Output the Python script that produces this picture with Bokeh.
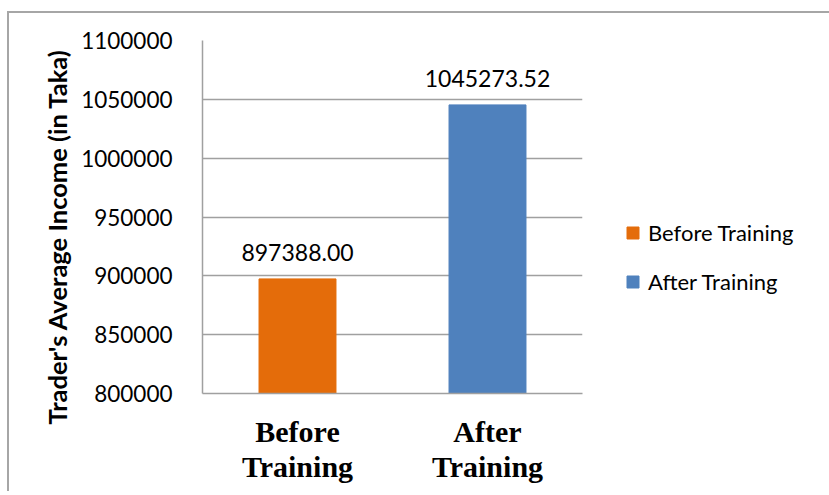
from bokeh.plotting import figure
from bokeh.models import (ColumnDataSource, Range1d, FixedTicker, NumeralTickFormatter, Legend,
                          LegendItem, CategoricalAxis, CustomJSTickFormatter, Title)
from bokeh.core.properties import value
from bokeh.embed import file_html
from bokeh.resources import INLINE

categories = ["Before Training", "After Training"]
incomes = [897388.00, 1045273.52]
colors = ["#E46C0A", "#4F81BD"]
tick_line1 = {"Before Training": "Before", "After Training": "After"}
tick_line2 = {"Before Training": "Training", "After Training": "Training"}
y_ticks = [800000, 850000, 900000, 950000, 1000000, 1050000, 1100000]
y_title = "Trader's Average Income (in Taka)"

src = ColumnDataSource(dict(cat=categories, val=incomes, color=colors,
                            lbl=[f"{v:.2f}" for v in incomes]))

p = figure(x_range=categories, y_range=Range1d(800000, 1100000),
           frame_width=380, frame_height=353, output_backend="svg", toolbar_location=None,
           min_border_left=193, min_border_top=27, min_border_right=245, min_border_bottom=98)
p.styles = {"border-top": "2px solid #a6a6a6", "border-left": "2px solid #a6a6a6",
            "margin-top": "11px", "margin-left": "7px"}
p.outline_line_color = None
p.background_fill_color = "white"

r = p.vbar(x="cat", top="val", bottom=800000, width=0.405, color="color", source=src)
p.text(x="cat", y="val", text="lbl", source=src, text_align="center", text_baseline="alphabetic",
       y_offset=-26, text_font=value("Lato"), text_font_size="23px", text_color="black")

p.yaxis.ticker = FixedTicker(ticks=y_ticks)
p.yaxis.formatter = NumeralTickFormatter(format="0")
p.yaxis.major_label_text_font = "Lato"
p.yaxis.major_label_text_font_size = "22.5px"
p.yaxis.major_label_text_color = "black"
p.yaxis.major_label_standoff = 24
p.yaxis.major_tick_line_color = None
p.yaxis.minor_tick_line_color = None
p.yaxis.axis_line_color = "#a0a0a0"
p.yaxis.axis_line_width = 1.5

ytitle = Title(text=y_title, align="left", offset=-31, standoff=14,
               text_font="Lato", text_font_style="bold", text_font_size="25.5px",
               text_color="black")
p.add_layout(ytitle, "left")

xa1 = p.xaxis[0]
xa1.formatter = CustomJSTickFormatter(args=dict(m=tick_line1), code="return m[tick];")
xa1.major_label_standoff = 15
xa1.axis_line_color = "#a0a0a0"
xa1.axis_line_width = 1.5

xa2 = CategoricalAxis(formatter=CustomJSTickFormatter(args=dict(m=tick_line2), code="return m[tick];"),
                      major_label_standoff=-7, axis_line_color=None)
p.add_layout(xa2, "below")

for ax in [xa1, xa2]:
    ax.major_label_text_font = "Liberation Serif"
    ax.major_label_text_font_style = "bold"
    ax.major_label_text_font_size = "30px"
    ax.major_label_text_color = "black"
    ax.major_tick_line_color = None
    ax.minor_tick_line_color = None

p.xgrid.grid_line_color = None
p.ygrid.grid_line_color = "#a0a0a0"
p.ygrid.grid_line_width = 1.5
p.x_range.range_padding = 0

items = [LegendItem(label=categories[i], renderers=[r], index=i) for i in range(len(categories))]
legend = Legend(items=items, location=(43, 98), orientation="vertical",
                glyph_width=15, glyph_height=15, label_standoff=8, spacing=22,
                padding=0, margin=0, border_line_color=None, background_fill_alpha=0,
                label_text_font="Lato", label_text_font_size="22px", label_text_color="black")
p.add_layout(legend, "right")

open("out.html", "w").write(file_html(p, INLINE))
